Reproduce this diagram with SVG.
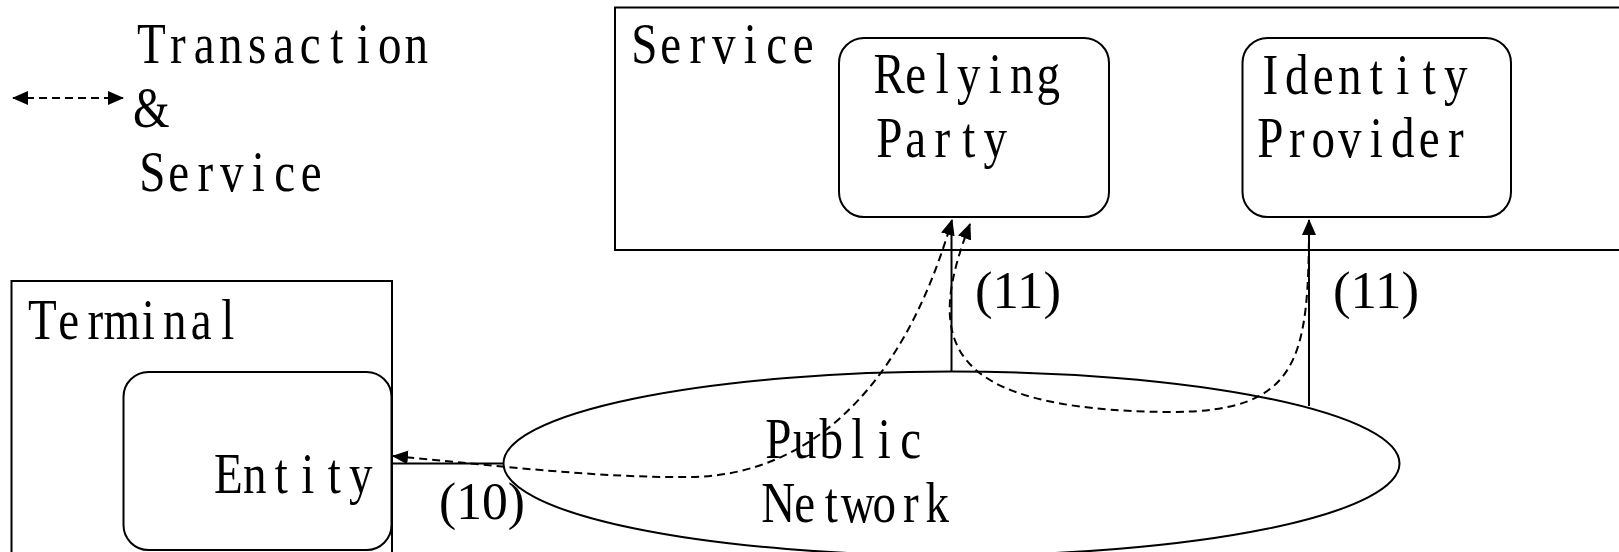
<svg xmlns="http://www.w3.org/2000/svg" width="1619" height="552" viewBox="0 0 1619 552">
  <defs>
    <marker id="head" markerUnits="userSpaceOnUse" markerWidth="16" markerHeight="14" viewBox="0 0 16 14" refX="15" refY="7" orient="auto-start-reverse">
      <path d="M0,0 L16,7 L0,14 z" fill="#000"/>
    </marker>
    <style>
      .box { fill: none; stroke: #000; stroke-width: 2; }
      /* fixed-pitch serif labels: one glyph per 26.5px cell, centred in its cell */
      .mono { font-family: "Liberation Serif", "Times New Roman", serif; font-size: 56px; fill: #000; text-anchor: middle; }
      .num { font-family: "Liberation Serif", "Times New Roman", serif; font-size: 52px; fill: #000; }
      .solid { fill: none; stroke: #000; stroke-width: 2; }
      .dash { fill: none; stroke: #000; stroke-width: 2; stroke-dasharray: 8 5; marker-start: url(#head); marker-end: url(#head); }
    </style>
  </defs>
  <rect width="1619" height="552" fill="#fff"/>

  <!-- legend -->
  <g id="legend">
    <path class="dash" d="M13,98 H123"/>
    <text class="mono" transform="translate(138,63) scale(0.84,1)" x="15.77 47.32 78.87 110.42 141.97 173.51 205.06 236.61 268.16 299.71 331.25" y="0">Transaction</text>
    <text class="mono" transform="translate(138,127) scale(0.84,1)" x="15.77" y="0">&amp;</text>
    <text class="mono" transform="translate(139,191) scale(0.84,1)" x="15.77 47.32 78.87 110.42 141.97 173.51 205.06" y="0">Service</text>
  </g>

  <!-- service domain -->
  <g id="service">
    <rect class="box" x="615" y="7.5" width="1100" height="242.5"/>
    <text class="mono" transform="translate(631,63) scale(0.84,1)" x="15.77 47.32 78.87 110.42 141.97 173.51 205.06" y="0">Service</text>
  </g>
  <g id="relying-party">
    <rect class="box" x="839" y="38" width="270" height="179" rx="25"/>
    <text class="mono" transform="translate(876,93) scale(0.84,1)" x="15.77 47.32 78.87 110.42 141.97 173.51 205.06" y="0">Relying</text>
    <text class="mono" transform="translate(876,157) scale(0.84,1)" x="15.77 47.32 78.87 110.42 141.97" y="0">Party</text>
  </g>
  <g id="identity-provider">
    <rect class="box" x="1242.5" y="38" width="268.5" height="179" rx="25"/>
    <text class="mono" transform="translate(1257,94) scale(0.84,1)" x="15.77 47.32 78.87 110.42 141.97 173.51 205.06 236.61" y="0">Identity</text>
    <text class="mono" transform="translate(1257,157) scale(0.84,1)" x="15.77 47.32 78.87 110.42 141.97 173.51 205.06 236.61" y="0">Provider</text>
  </g>

  <!-- terminal -->
  <g id="terminal">
    <rect class="box" x="11.5" y="281" width="380.5" height="300"/>
    <text class="mono" transform="translate(29,339) scale(0.84,1)" x="15.77 47.32 78.87 110.42 141.97 173.51 205.06 236.61" y="0">Terminal</text>
  </g>
  <g id="entity">
    <rect class="box" x="123.5" y="372" width="268" height="178" rx="25"/>
    <text class="mono" transform="translate(215,493) scale(0.84,1)" x="15.77 47.32 78.87 110.42 141.97 173.51" y="0">Entity</text>
  </g>

  <!-- network -->
  <g id="public-network">
    <ellipse class="box" cx="951.5" cy="463.5" rx="448" ry="92"/>
    <text class="mono" transform="translate(765,458) scale(0.84,1)" x="15.77 47.32 78.87 110.42 141.97 173.51" y="0">Public</text>
    <text class="mono" transform="translate(765,522) scale(0.84,1)" x="15.77 47.32 78.87 110.42 141.97 173.51 205.06" y="0">Network</text>
  </g>

  <!-- links -->
  <g id="connectors">
    <path class="solid" d="M392,463.5 H503.5"/>
    <path class="solid" d="M951.5,371.5 V222"/>
    <path class="solid" d="M1309,406 V222"/>
    <path class="dash" d="M393,456 C500,466 600,478 690,477 C800,476 900,400 952,220"/>
    <path class="dash" d="M970,224 C925,340 940,410 1170,412 C1300,412 1309,360 1309,220"/>
    <text class="num" x="439" y="519" textLength="86" lengthAdjust="spacingAndGlyphs">(10)</text>
    <text class="num" x="975" y="308" textLength="86" lengthAdjust="spacingAndGlyphs">(11)</text>
    <text class="num" x="1333" y="308" textLength="86" lengthAdjust="spacingAndGlyphs">(11)</text>
  </g>
</svg>
